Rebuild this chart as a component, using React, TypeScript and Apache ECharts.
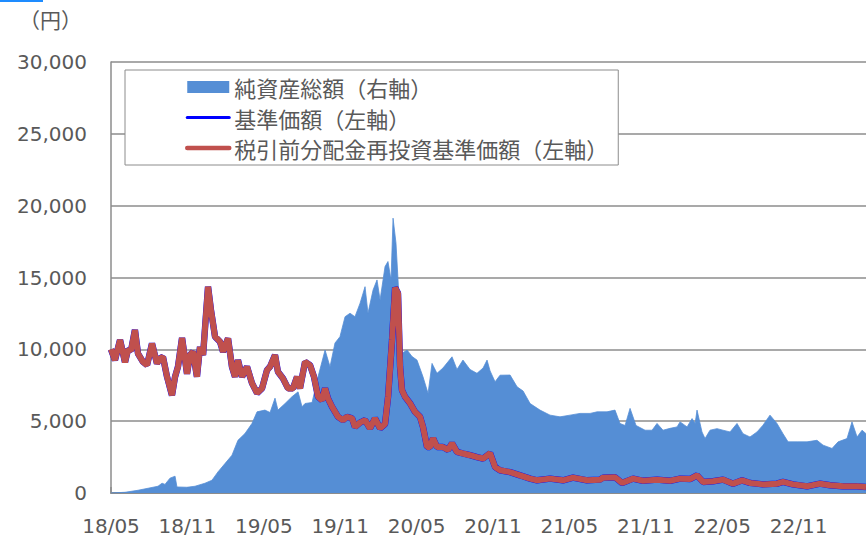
import React, { useEffect, useRef } from "react";
import * as echarts from "echarts";

// x positions are months elapsed since 2018/05
const navMonths = [0, 0.31, 0.71, 1.1, 1.34, 1.57, 1.88, 2.12, 2.51, 2.83, 3.22, 3.61, 3.85, 4.08, 4.4, 4.79, 5.03, 5.26, 5.58, 5.97, 6.2, 6.44, 6.75, 6.99, 7.23, 7.62, 7.85, 8.17, 8.56, 8.8, 9.19, 9.5, 9.74, 9.97, 10.29, 10.68, 11.07, 11.47, 11.86, 12.25, 12.49, 12.88, 13.11, 13.51, 13.9, 14.29, 14.61, 14.84, 15.24, 15.63, 15.94, 16.26, 16.57, 16.81, 17.04, 17.36, 17.83, 18.22, 18.53, 18.93, 19.16, 19.56, 19.95, 20.34, 20.73, 21.13, 21.52, 21.76, 22.07, 22.31, 22.54, 22.7, 22.85, 23.09, 23.48, 23.87, 24.27, 24.5, 24.82, 25.05, 25.29, 25.6, 26.07, 26.47, 26.78, 27.17, 27.64, 28.19, 28.74, 29.22, 29.77, 30.16, 30.55, 31.34, 32.12, 32.91, 33.46, 34.48, 35.5, 36.28, 37.38, 38.4, 38.64, 39.58, 40.13, 41.0, 41.78, 42.88, 43.9, 44.69, 45.47, 46.02, 46.49, 47.28, 48.06, 48.85, 49.56, 50.18, 51.2, 52.3, 52.77, 53.56, 54.66, 55.68, 56.47, 57.49, 58.59, 59.29];

// 税引前分配金再投資基準価額 (円)
const reinvestNav = [10000, 9250, 10650, 9100, 10000, 9900, 11350, 9700, 9130, 8900, 10400, 9020, 9370, 9480, 8090, 6800, 8090, 8790, 10800, 8300, 9600, 9830, 8090, 10180, 9600, 14360, 12740, 10880, 10530, 9830, 10760, 8790, 8090, 9250, 8090, 8790, 7650, 6950, 7280, 8550, 8790, 9600, 8440, 7970, 7280, 7280, 8090, 7280, 9130, 8900, 8090, 6700, 6460, 7280, 6580, 6000, 5300, 5070, 5300, 5200, 4600, 4900, 5070, 4500, 5200, 4500, 4800, 6700, 10650, 14300, 13900, 8790, 7160, 6700, 6250, 5650, 5300, 4600, 3200, 3200, 3810, 3200, 3200, 3000, 3460, 2860, 2750, 2630, 2500, 2400, 2770, 1810, 1580, 1450, 1230, 1000, 885, 1000, 885, 1070, 885, 930, 1070, 1100, 700, 1000, 850, 930, 850, 1000, 970, 1230, 770, 820, 930, 650, 880, 700, 600, 650, 770, 600, 465, 650, 540, 465, 465, 420];

// 基準価額 (円) - no distributions paid, identical to the reinvested line
const baseNav = [10000, 9250, 10650, 9100, 10000, 9900, 11350, 9700, 9130, 8900, 10400, 9020, 9370, 9480, 8090, 6800, 8090, 8790, 10800, 8300, 9600, 9830, 8090, 10180, 9600, 14360, 12740, 10880, 10530, 9830, 10760, 8790, 8090, 9250, 8090, 8790, 7650, 6950, 7280, 8550, 8790, 9600, 8440, 7970, 7280, 7280, 8090, 7280, 9130, 8900, 8090, 6700, 6460, 7280, 6580, 6000, 5300, 5070, 5300, 5200, 4600, 4900, 5070, 4500, 5200, 4500, 4800, 6700, 10650, 14300, 13900, 8790, 7160, 6700, 6250, 5650, 5300, 4600, 3200, 3200, 3810, 3200, 3200, 3000, 3460, 2860, 2750, 2630, 2500, 2400, 2770, 1810, 1580, 1450, 1230, 1000, 885, 1000, 885, 1070, 885, 930, 1070, 1100, 700, 1000, 850, 930, 850, 1000, 970, 1230, 770, 820, 930, 650, 880, 700, 600, 650, 770, 600, 465, 650, 540, 465, 465, 420];

const assetMonths = [0, 1.1, 2.12, 2.91, 3.69, 4.01, 4.24, 4.63, 5.03, 5.18, 5.97, 6.6, 7.38, 7.93, 8.4, 8.95, 9.5, 9.97, 10.52, 11.07, 11.47, 12.09, 12.49, 12.88, 13.11, 13.67, 14.21, 14.69, 15.0, 15.24, 15.79, 16.26, 16.81, 17.2, 17.59, 17.98, 18.38, 18.77, 19.16, 19.56, 19.95, 20.18, 20.58, 20.89, 21.13, 21.52, 21.75, 21.99, 22.15, 22.38, 22.54, 22.85, 23.25, 23.64, 24.03, 24.5, 24.9, 25.21, 25.6, 26.07, 26.78, 27.17, 27.64, 28.19, 28.74, 29.22, 29.53, 29.77, 30.16, 30.55, 31.34, 31.89, 32.36, 32.91, 33.69, 34.48, 35.26, 36.05, 36.83, 37.62, 38.17, 38.95, 39.58, 39.97, 40.37, 40.76, 41.23, 41.94, 42.49, 42.88, 43.35, 43.9, 44.45, 44.69, 45.24, 45.63, 45.87, 46.02, 46.41, 46.65, 47.04, 47.59, 48.06, 48.61, 49.16, 49.63, 50.18, 50.73, 51.2, 51.75, 52.3, 52.77, 53.17, 53.88, 54.66, 55.44, 55.92, 56.62, 57.1, 57.8, 58.19, 58.59, 58.98, 59.29];

// 純資産総額 (right axis; right axis lies outside the visible frame, same scale as the left one)
const netAssets = [0, 50, 190, 330, 470, 680, 600, 1030, 1170, 420, 400, 470, 680, 890, 1470, 2050, 2630, 3670, 4140, 4840, 5650, 5770, 5600, 6600, 5770, 6230, 6700, 7040, 6000, 6230, 6300, 8090, 9950, 8790, 10440, 10880, 12270, 12510, 12270, 13210, 14360, 12510, 14130, 14830, 13440, 15760, 16110, 14830, 19130, 17390, 14830, 9720, 9950, 9500, 9250, 8090, 6930, 9020, 8330, 8700, 9480, 8600, 9250, 8600, 8330, 8700, 9250, 8500, 7740, 8200, 8210, 7390, 7100, 6230, 5770, 5420, 5300, 5420, 5540, 5540, 5650, 5650, 5770, 4840, 4700, 5890, 4700, 4370, 4370, 4840, 4370, 4500, 4600, 4950, 4600, 5180, 4840, 5770, 4250, 3790, 4370, 4480, 4370, 4250, 4840, 4130, 3900, 4250, 4720, 5420, 4840, 4130, 3560, 3560, 3560, 3670, 3330, 3100, 3560, 3790, 4950, 3900, 4370, 4130];

const leftTicks = [0, 5000, 10000, 15000, 20000, 25000, 30000];

const NAME_ASSETS = "純資産総額（右軸）";
const NAME_BASE = "基準価額（左軸）";
const NAME_REINV = "税引前分配金再投資基準価額（左軸）";

const GREY = "#8c8c8c";
const TEXT = "#595959";

function monthLabel(m: number): string {
  const idx = Math.round(m) + 4; // 0 -> May 2018
  const y = 18 + Math.floor(idx / 12);
  const mo = (idx % 12) + 1;
  return `${y}/${mo < 10 ? "0" + mo : mo}`;
}

export default function App() {
  const ref = useRef<HTMLDivElement>(null);

  useEffect(() => {
    if (!ref.current) return;
    const chart = echarts.init(ref.current, null, { renderer: "svg" });
    chart.setOption({
      animation: false,
      backgroundColor: "#ffffff",
      textStyle: { fontFamily: "'DejaVu Sans', 'Noto Sans CJK JP', sans-serif" },
      grid: { left: 111, right: 0, top: 62, bottom: 45, containLabel: false },
      graphic: [
        { type: "rect", left: 0, top: 0, shape: { width: 43, height: 2 }, style: { fill: "#1E8CFF" } },
        {
          type: "text",
          left: 19,
          top: 8,
          style: { text: "（円）", fontSize: 21, fill: TEXT, fontFamily: "'Noto Sans CJK JP', sans-serif" },
        },
      ],
      legend: {
        orient: "vertical",
        left: 125,
        top: 70,
        padding: [5, 10, 5, 60],
        itemGap: 6.5,
        itemWidth: 42,
        itemHeight: 12,
        backgroundColor: "#ffffff",
        borderColor: GREY,
        borderWidth: 1,
        borderRadius: 0,
        selectedMode: false,
        textStyle: { fontSize: 22, color: TEXT, lineHeight: 24, fontFamily: "'Noto Sans CJK JP', sans-serif" },
        data: [
          { name: NAME_ASSETS, icon: "rect", itemStyle: { color: "#558ED5", borderWidth: 0 } },
          {
            name: NAME_BASE,
            itemStyle: { color: "rgba(0,0,0,0)", borderWidth: 0 },
            lineStyle: { color: "#0000FF", width: 3, cap: "round" },
          },
          {
            name: NAME_REINV,
            itemStyle: { color: "rgba(0,0,0,0)", borderWidth: 0 },
            lineStyle: { color: "#C0504D", width: 4.5, cap: "round" },
          },
        ],
      },
      xAxis: {
        type: "value",
        min: 0,
        max: 59.29,
        interval: 6,
        axisLine: { show: true, lineStyle: { color: GREY, width: 2 } },
        axisTick: { show: true, inside: true, length: 6, lineStyle: { color: GREY, width: 1.5 } },
        splitLine: { show: false },
        axisLabel: {
          fontSize: 20,
          color: TEXT,
          margin: 23,
          showMinLabel: true,
          showMaxLabel: false,
          formatter: (v: number) => monthLabel(v),
        },
      },
      yAxis: [
        {
          type: "value",
          min: leftTicks[0],
          max: leftTicks[leftTicks.length - 1],
          interval: 5000,
          axisLine: { show: true, lineStyle: { color: GREY, width: 1.5 } },
          axisTick: { show: false },
          splitLine: { show: true, lineStyle: { color: GREY, width: 1.5 } },
          axisLabel: {
            fontSize: 20,
            color: TEXT,
            margin: 24,
            formatter: (v: number) => v.toLocaleString("en-US"),
          },
        },
        { type: "value", min: 0, max: 30000, show: false, splitLine: { show: false } },
      ],
      series: [
        {
          name: NAME_ASSETS,
          type: "line",
          yAxisIndex: 1,
          symbol: "none",
          data: assetMonths.map((m, i) => [m, netAssets[i]]),
          itemStyle: { color: "#558ED5" },
          lineStyle: { color: "#558ED5", width: 0.8 },
          areaStyle: { color: "#558ED5", opacity: 1 },
          z: 1,
        },
        {
          name: NAME_BASE,
          type: "line",
          yAxisIndex: 0,
          symbol: "none",
          data: navMonths.map((m, i) => [m, baseNav[i]]),
          itemStyle: { color: "#0000FF" },
          lineStyle: { color: "#0000FF", width: 6.4 },
          z: 2,
        },
        {
          name: NAME_REINV,
          type: "line",
          yAxisIndex: 0,
          symbol: "none",
          data: navMonths.map((m, i) => [m, reinvestNav[i]]),
          itemStyle: { color: "#C0504D" },
          lineStyle: { color: "#C0504D", width: 6 },
          z: 3,
        },
      ],
    });
    return () => chart.dispose();
  }, []);

  return <div ref={ref} style={{ position: "fixed", left: 0, top: 0, width: 866, height: 538 }} />;
}
